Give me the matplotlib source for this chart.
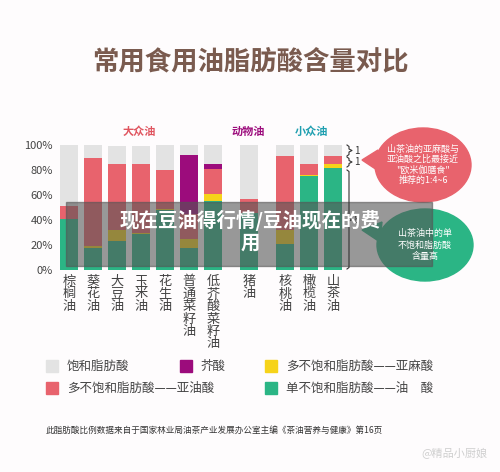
import matplotlib
matplotlib.use("Agg")
import matplotlib.pyplot as plt
from matplotlib.patches import Ellipse, Polygon, Rectangle
from matplotlib.lines import Line2D
import numpy as np

plt.rcParams['font.family'] = ['Noto Sans CJK SC', 'DejaVu Sans']

oils = ["棕榈油", "葵花油", "大豆油", "玉米油", "花生油", "普通菜籽油", "低芥酸菜籽油", "猪油", "核桃油", "橄榄油", "山茶油"]
xpos = [0, 1, 2, 3, 4, 5, 6, 7.5, 9, 10, 11]
oleic = [41, 18, 23, 28.5, 48, 18, 55, 46, 21, 75, 82]
linolenic = [0, 1, 9, 1.5, 1, 7, 6, 0, 11, 1, 2.5]
linoleic = [10, 71, 53, 55, 31, 20, 20, 11, 59, 9, 6.5]
erucic = [0, 0, 0, 0, 0, 47, 4, 0, 0, 0, 0]
saturated = [49, 10, 14, 14, 20, 8, 15, 43, 9, 15, 9]

C_SAT, C_ER, C_LN, C_LA, C_OL = "#e3e3e3", "#9c0c7c", "#f6d31a", "#e8636d", "#2bb585"
W, H = 500, 472
fig = plt.figure(figsize=(5, 4.72), dpi=100)
fig.patch.set_facecolor("#fefcfd")

def fx(px): return px / W
def fy(py): return 1 - py / H

ax = fig.add_axes([fx(57), fy(270), fx(345) - fx(57), fy(145) - fy(270)])
ax.set_facecolor("#fefcfd")
bottom = np.zeros(len(oils))
for vals, c in [(oleic, C_OL), (linolenic, C_LN), (linoleic, C_LA), (erucic, C_ER), (saturated, C_SAT)]:
    ax.bar(xpos, vals, bottom=bottom, color=c, width=0.72)
    bottom += np.array(vals)
ax.set_xlim(-0.5, 11.5)
ax.set_ylim(0, 100)
ax.set_yticks([0, 20, 40, 60, 80, 100])
ax.set_yticklabels(["0%", "20%", "40%", "60%", "80%", "100%"], fontsize=8, color="#444")
ax.set_xticks([])
for s in ax.spines.values():
    s.set_visible(False)
ax.tick_params(length=0, pad=3)
for x, name in zip(xpos, oils):
    ax.text(x, -4, "\n".join(name), ha="center", va="top", fontsize=9.5, color="#444", linespacing=0.95)

# group labels
fig.text(fx(139), fy(131), "大众油", color="#e0555f", fontsize=8, ha="center", va="center", weight="bold")
fig.text(fx(248), fy(131), "动物油", color="#9c0c7c", fontsize=8, ha="center", va="center", weight="bold")
fig.text(fx(311), fy(131), "小众油", color="#1f9fb0", fontsize=8, ha="center", va="center", weight="bold")

# title
fig.text(0.5, fy(62), "常用食用油脂肪酸含量对比", fontsize=19, weight="bold", color="#7a5b4f", ha="center", va="center")

# braces drawn as thin paths
def brace(y0, y1, label):
    xm = 347
    ym = (y0 + y1) / 2
    xs = [xm, xm + 2, xm + 2, xm + 5, xm + 2, xm + 2, xm]
    ys = [y0, y0 + 1.5, ym - 1.5, ym, ym + 1.5, y1 - 1.5, y1]
    fig.lines.append(Line2D([fx(v) for v in xs], [fy(v) for v in ys], transform=fig.transFigure, color="#333", lw=0.8))
    fig.text(fx(354), fy(ym), label, fontsize=7, color="#333", va="center")

brace(145, 156, "1")
brace(157, 167, "1")
brace(170, 269, "8")

# bubbles
fig.patches.append(Polygon([[fx(362), fy(160)], [fx(378), fy(150)], [fx(380), fy(172)]], closed=True, transform=fig.transFigure, color="#e8636d"))
fig.patches.append(Ellipse((fx(423), fy(165)), fx(96), fy(0) - fy(74), transform=fig.transFigure, color="#e8636d"))
fig.text(fx(423), fy(165), "山茶油的亚麻酸与\n亚油酸之比最接近\n\"欧米伽膳食\"\n推荐的1:4~6", fontsize=6.5, color="white", ha="center", va="center", linespacing=1.2)
fig.patches.append(Polygon([[fx(362), fy(230)], [fx(382), fy(222)], [fx(380), fy(242)]], closed=True, transform=fig.transFigure, color="#2bb585"))
fig.patches.append(Ellipse((fx(425), fy(245)), fx(96), fy(0) - fy(72), transform=fig.transFigure, color="#2bb585"))
fig.text(fx(425), fy(245), "山茶油中的单\n不饱和脂肪酸\n含量高", fontsize=6.5, color="white", ha="center", va="center", linespacing=1.3)

# legend
leg = [(C_SAT, "饱和脂肪酸", 46, 366), (C_ER, "芥酸", 180, 366), (C_LN, "多不饱和脂肪酸——亚麻酸", 265, 366),
       (C_LA, "多不饱和脂肪酸——亚油酸", 46, 388), (C_OL, "单不饱和脂肪酸——油　酸", 265, 388)]
for c, t, x, y in leg:
    fig.patches.append(Rectangle((fx(x), fy(y + 6)), fx(12), fy(0) - fy(12), transform=fig.transFigure, color=c))
    fig.text(fx(x + 21), fy(y), t, fontsize=9, color="#444", va="center")

fig.text(fx(46), fy(430), "此脂肪酸比例数据来自于国家林业局油茶产业发展办公室主编《茶油营养与健康》第16页", fontsize=6.2, color="#333", va="center")
fig.text(fx(488), fy(454), "@精品小厨娘", fontsize=8, color="#cfcfcf", ha="right", va="center")

# overlay banner
fig.patches.append(Rectangle((fx(66), fy(266)), fx(366), fy(0) - fy(64), transform=fig.transFigure, color="#555555", alpha=0.6))
fig.text(fx(250), fy(231), "现在豆油得行情/豆油现在的费\n用", fontsize=14, weight="bold", color="white", ha="center", va="center", linespacing=1.2)

fig.savefig("out.png", dpi=100, facecolor=fig.get_facecolor())
